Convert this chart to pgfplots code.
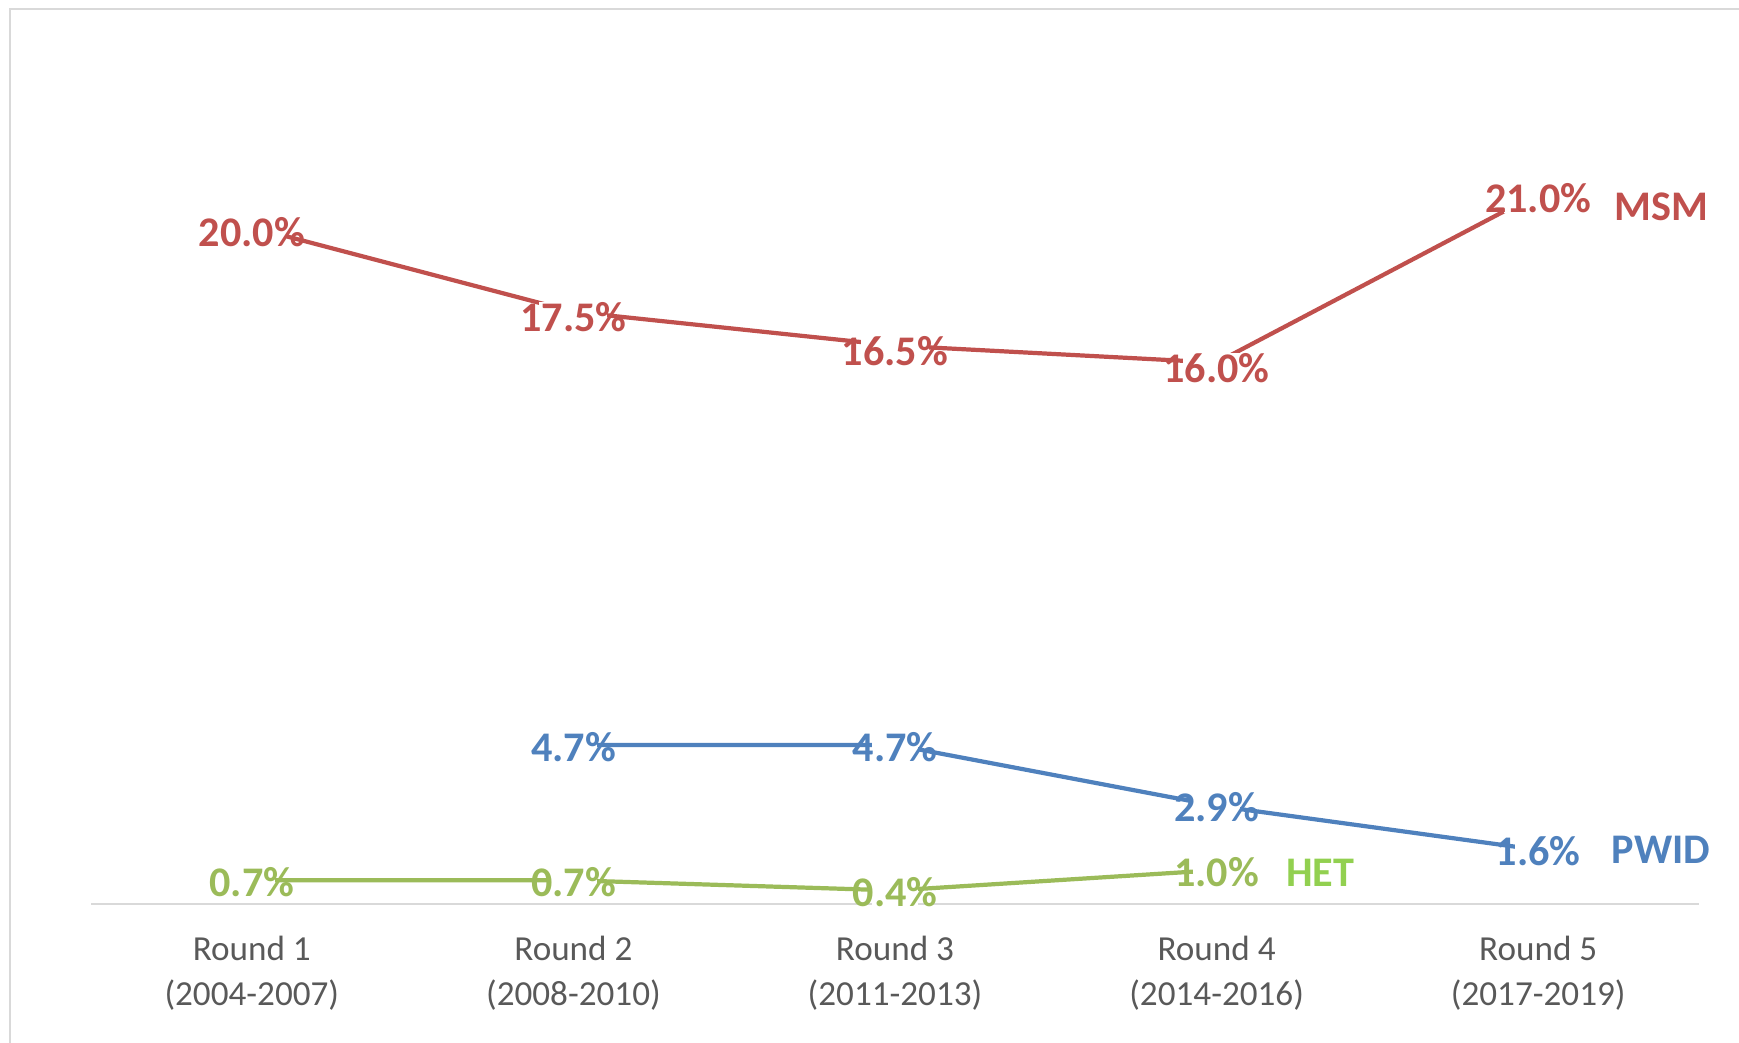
\documentclass[border=0pt]{standalone}
\usepackage{fontspec}
\setmainfont{Carlito}
\usepackage{pgfplots}
\pgfplotsset{compat=1.18}

\definecolor{msm}{HTML}{C0504D}
\definecolor{pwid}{HTML}{4F81BD}
\definecolor{het}{HTML}{9BBB59}
\definecolor{hetname}{HTML}{92D050}
\definecolor{tickgray}{HTML}{595959}
\definecolor{axisgray}{HTML}{D9D9D9}

\begin{document}
\begin{tikzpicture}
    \path[use as bounding box] (0,0) rectangle (17.39,10.43);
    % outer chart frame (cut at right and bottom)
    \draw[axisgray, line width=0.02cm] (0.10,0) -- (0.10,10.34) -- (17.39,10.34);

    \begin{axis}[
        at={(0.91cm,1.39cm)},
        anchor=south west,
        width=16.08cm,
        height=8.46cm,
        scale only axis,
        xmin=-0.5, xmax=4.5,
        ymin=0, ymax=25,
        axis x line*=bottom,
        axis y line=none,
        x axis line style={draw=axisgray, line width=0.02cm, -},
        xtick={0,1,2,3,4},
        xticklabels={{Round 1\\(2004-2007)},{Round 2\\(2008-2010)},{Round 3\\(2011-2013)},{Round 4\\(2014-2016)},{Round 5\\(2017-2019)}},
        major tick length=0pt,
        xticklabel style={align=center, text=tickgray,
            font=\fontsize{10}{12.8}\selectfont, yshift=-0.20cm},
        clip=false,
        nodes near coords={\pgfmathprintnumber[fixed,fixed zerofill,precision=1,assume math mode=true]{\pgfplotspointmeta}\%},
        nodes near coords align=center,
        every node near coord/.append style={font=\fontsize{12}{14}\selectfont\bfseries,
            fill=white, inner xsep=-0.19cm, inner ysep=0pt, yshift=-0.5pt},
    ]

    % MSM
    \addplot[msm, line width=1.2pt, no markers,
        every node near coord/.append style={text=msm, yshift=-1pt}] coordinates {
        (0,20.0) (1,17.5) (2,16.5) (3,16.0) (4,21.0)
    };

    % PWID
    \addplot[pwid, line width=1.2pt, no markers,
        every node near coord/.append style={text=pwid}] coordinates {
        (1,4.7) (2,4.7) (3,2.9) (4,1.6)
    };

    % HET
    \addplot[het, line width=1.2pt, no markers,
        every node near coord/.append style={text=het}] coordinates {
        (0,0.7) (1,0.7) (2,0.4) (3,1.0)
    };

    \node[anchor=west, inner sep=0pt, xshift=0.76cm, yshift=-0.13cm, text=msm,
        font=\fontsize{12}{14}\selectfont\bfseries] at (axis cs:4,21.0) {MSM};
    \node[anchor=west, inner sep=0pt, xshift=0.73cm, text=pwid,
        font=\fontsize{12}{14}\selectfont\bfseries] at (axis cs:4,1.6) {PWID};
    \node[anchor=west, inner sep=0pt, xshift=0.69cm, yshift=-0.03cm, text=hetname,
        font=\fontsize{12}{14}\selectfont\bfseries] at (axis cs:3,1.0) {HET};

    \end{axis}
\end{tikzpicture}
\end{document}
